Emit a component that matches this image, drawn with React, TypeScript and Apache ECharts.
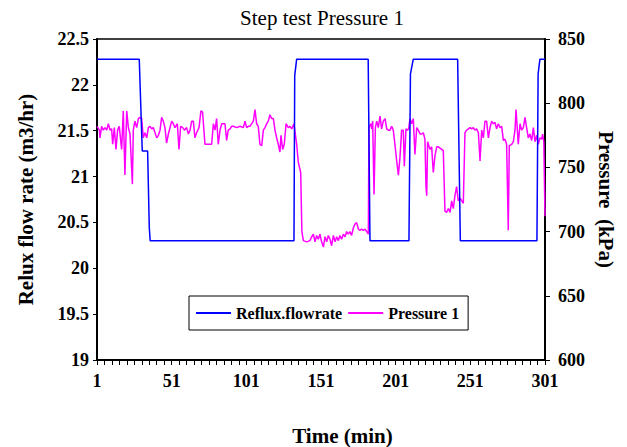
import React, { useEffect, useRef } from "react";
import * as echarts from "echarts";

// Reflux flow rate (m3/hr) — step changes
const refluxTime = [1, 29.3, 31.3, 34.9, 36, 36.6, 132.9, 133.4, 134.7, 182.6, 183.8, 209.9, 210.9, 212.8, 242.5, 244.3, 295.6, 296.4, 297.6, 301];
const refluxFlow = [22.28, 22.28, 21.28, 21.28, 20.45, 20.3, 20.3, 22.1, 22.28, 22.28, 20.3, 20.3, 22.12, 22.28, 22.28, 20.3, 20.3, 22.12, 22.28, 22.28];

// Pressure 1 (kPa)
const pressureTime = [
  1, 2.6, 3.0, 4.1, 5.2, 6.4, 7.5, 8.6, 9.7, 10.8, 11.5, 12.6, 13.7, 14.8, 15.9, 17.5, 18.6, 19.7, 20.9, 22.0,
  23.1, 24.7, 25.3, 26.4, 27.6, 28.7, 29.8, 30.9, 32.0, 33.1, 34.3, 35.4, 36.5, 37.6, 38.7, 41.0, 42.1, 43.2, 44.3, 45.4,
  46.5, 47.6, 48.8, 49.9, 51.0, 52.1, 53.2, 54.8, 55.9, 57.0, 58.4, 59.5, 61.0, 62.2, 63.3, 64.4, 65.5, 66.6, 67.7, 69.3,
  70.6, 71.7, 73.3, 75.5, 77.8, 78.9, 80.0, 81.1, 82.2, 83.4, 84.5, 85.6, 86.7, 87.8, 88.9, 90.1, 91.2, 92.3, 94.5, 96.8,
  99.0, 100.1, 101.2, 102.3, 103.4, 105.7, 106.8, 107.9, 109.0, 110.1, 111.3, 112.4, 113.5, 114.6, 115.7, 116.8, 118.0, 119.1, 120.2, 121.3,
  122.4, 123.5, 124.2, 125.3, 126.4, 127.6, 129.1, 130.2, 131.4, 132.9, 134.7, 135.8, 137.4, 138.2, 139.2, 141.4, 143.6, 144.8, 145.9, 147.0,
  148.1, 149.2, 150.3, 151.4, 152.6, 153.7, 154.8, 155.9, 157.0, 158.1, 159.3, 160.4, 161.5, 162.6, 163.7, 164.8, 166.0, 167.1, 168.2, 169.3,
  170.4, 171.5, 172.7, 173.8, 174.9, 176.0, 177.1, 178.2, 179.4, 180.5, 181.6, 182.7, 183.1, 184.3, 185.0, 185.6, 186.5, 187.4, 188.3, 189.4,
  190.5, 191.6, 192.7, 193.9, 195.0, 196.1, 197.2, 198.3, 199.4, 200.5, 201.7, 202.8, 203.9, 205.0, 206.1, 206.8, 207.9, 208.8, 209.7, 210.6,
  211.7, 212.8, 213.9, 215.1, 216.2, 217.3, 218.4, 219.5, 220.6, 221.3, 221.8, 222.4, 224.0, 225.1, 226.2, 227.3, 228.5, 229.6, 231.8, 232.9,
  234.0, 235.1, 236.3, 237.4, 238.5, 239.6, 240.7, 241.8, 242.9, 244.1, 246.3, 247.4, 248.5, 249.7, 250.8, 251.9, 253.0, 254.1, 255.2, 256.4,
  257.5, 258.6, 259.7, 260.8, 261.9, 263.1, 264.2, 265.3, 266.4, 267.5, 268.6, 269.7, 270.9, 272.0, 273.1, 274.2, 275.3, 276.4, 277.1, 278.7,
  279.8, 280.9, 281.6, 282.5, 283.1, 284.3, 285.4, 286.5, 287.6, 288.7, 289.8, 290.9, 292.1, 293.2, 294.3, 295.4, 296.5, 297.6, 298.8, 299.4,
  300.2, 301,
];
const pressure = [
  782, 779, 773, 782, 779, 781, 779, 784, 779, 780, 768, 781, 764, 779, 782, 764, 794, 744, 794, 781,
  776, 737, 779, 786, 781, 788, 789, 788, 773, 777, 773, 781, 782, 780, 781, 773, 775, 779, 789, 786,
  781, 769, 776, 781, 786, 784, 781, 784, 764, 782, 781, 779, 781, 776, 779, 786, 786, 773, 777, 781,
  794, 793, 768, 768, 768, 784, 779, 788, 768, 779, 784, 784, 784, 771, 779, 780, 782, 782, 781, 782,
  781, 786, 781, 782, 782, 786, 795, 784, 782, 768, 767, 779, 781, 784, 786, 791, 788, 788, 779, 773,
  768, 762, 775, 764, 768, 784, 781, 782, 780, 784, 768, 754, 746, 700, 693, 692, 693, 696, 698, 692,
  697, 694, 698, 692, 688, 696, 692, 697, 694, 689, 697, 692, 696, 693, 697, 694, 698, 696, 700, 698,
  700, 697, 703, 706, 707, 702, 701, 702, 701, 702, 700, 698, 781, 784, 780, 786, 729, 781, 786, 781,
  790, 780, 786, 788, 780, 779, 779, 782, 779, 768, 755, 744, 758, 779, 779, 751, 780, 779, 780, 788,
  784, 788, 760, 781, 779, 776, 776, 777, 772, 735, 728, 770, 764, 766, 746, 759, 766, 766, 764, 763,
  716, 715, 718, 715, 724, 718, 728, 735, 724, 726, 722, 777, 779, 780, 781, 780, 781, 779, 780, 777,
  755, 779, 773, 786, 786, 773, 781, 786, 784, 785, 780, 784, 781, 782, 771, 772, 768, 701, 767, 768,
  770, 779, 795, 779, 768, 784, 779, 781, 789, 781, 773, 776, 771, 781, 770, 775, 768, 773, 772, 776,
  770, 712,
];

const FONT = "'Liberation Serif', 'Times New Roman', serif";

export default function App() {
  const ref = useRef<HTMLDivElement>(null);
  useEffect(() => {
    if (!ref.current) return;
    const chart = echarts.init(ref.current, undefined, { renderer: "svg" });
    const bold = { fontFamily: FONT, fontWeight: "bold" as const, color: "#000" };
    chart.setOption({
      animation: false,
      backgroundColor: "#fff",
      title: {
        text: "Step test Pressure 1",
        left: 322,
        textAlign: "center",
        top: 7,
        padding: 0,
        textStyle: { fontFamily: FONT, fontWeight: "normal", fontSize: 21, color: "#000" },
      },
      legend: {
        data: ["Reflux.flowrate", "Pressure 1"],
        left: 189,
        top: 296,
        orient: "horizontal",
        icon: "rect",
        itemWidth: 35,
        itemHeight: 2,
        itemGap: 6,
        padding: [9, 9, 9, 7],
        borderColor: "#000",
        borderWidth: 1,
        backgroundColor: "#fff",
        textStyle: { ...bold, fontSize: 16, lineHeight: 16 },
      },
      grid: {
        left: 97,
        right: 82,
        top: 39,
        bottom: 87,
        outerBoundsMode: "none",
        show: true,
        borderColor: "#000",
        borderWidth: 1.5,
        backgroundColor: "transparent",
      },
      xAxis: {
        type: "value",
        min: 0,
        max: 300,
        interval: 50,
        axisLine: { show: true, lineStyle: { color: "#000", width: 2 } },
        axisTick: { show: true, length: 5, lineStyle: { color: "#000" } },
        minorTick: { show: true, splitNumber: 10, length: 5, lineStyle: { color: "#000" } },
        splitLine: { show: false },
        minorSplitLine: { show: false },
        axisLabel: { ...bold, fontSize: 18, margin: 12, formatter: (v: number) => String(v + 1) },
        name: "Time (min)",
        nameLocation: "middle",
        nameGap: 65,
        nameTextStyle: { ...bold, fontSize: 21, padding: [0, 0, 0, 43] },
      },
      yAxis: [
        {
          type: "value",
          position: "left",
          min: 19,
          max: 22.5,
          interval: 0.5,
          axisLine: { show: true, lineStyle: { color: "#000", width: 2 } },
          axisTick: { show: true, length: 4, lineStyle: { color: "#000" } },
          splitLine: { show: false },
          axisLabel: { ...bold, fontSize: 18, margin: 8 },
          name: "Relux flow rate (m3/hr)",
          nameLocation: "middle",
          nameGap: 61,
          nameRotate: 90,
          nameTextStyle: { ...bold, fontSize: 21 },
        },
        {
          type: "value",
          position: "right",
          min: 600,
          max: 850,
          interval: 50,
          axisLine: { show: true, lineStyle: { color: "#000", width: 2 } },
          axisTick: { show: true, length: 5, lineStyle: { color: "#000" } },
          splitLine: { show: false },
          axisLabel: { ...bold, fontSize: 18, margin: 13 },
          name: "Pressure  (kPa)",
          nameLocation: "middle",
          nameGap: 38,
          nameRotate: -90,
          nameTextStyle: { ...bold, fontSize: 21 },
        },
      ],
      series: [
        {
          name: "Reflux.flowrate",
          type: "line",
          yAxisIndex: 0,
          data: refluxTime.map((t, i) => [t - 1, refluxFlow[i]]),
          symbol: "none",
          z: 3,
          lineStyle: { color: "#0000ff", width: 1.5 },
          itemStyle: { color: "#0000ff" },
        },
        {
          name: "Pressure 1",
          type: "line",
          yAxisIndex: 1,
          data: pressureTime.map((t, i) => [t - 1, pressure[i]]),
          symbol: "none",
          z: 2,
          lineStyle: { color: "#ff00ff", width: 1.5 },
          itemStyle: { color: "#ff00ff" },
        },
      ],
    });
    return () => chart.dispose();
  }, []);
  return (
    <div
      ref={ref}
      style={{ position: "fixed", left: 0, top: 0, width: 627, height: 447, background: "#fff" }}
    />
  );
}
